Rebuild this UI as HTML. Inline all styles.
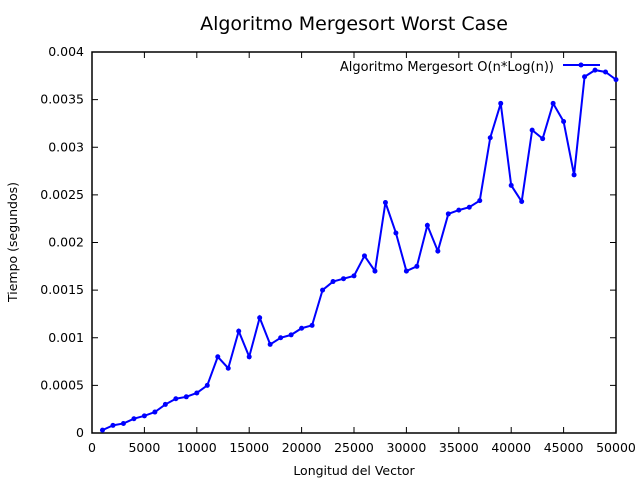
<!DOCTYPE html>
<html><head><meta charset="utf-8"><style>
body{margin:0;background:#fff;}
svg{display:block;font-family:"DejaVu Sans","Liberation Sans",sans-serif;}
</style></head><body>
<svg id="chart" width="640" height="480">
<text x="354" y="30" font-size="19" text-anchor="middle">Algoritmo Mergesort Worst Case</text>
<rect x="92" y="52" width="524" height="381" fill="none" stroke="#000" stroke-width="1.5"/>
<g id="ticks"></g>
<text x="354" y="475" font-size="12.5" text-anchor="middle">Longitud del Vector</text>
<text transform="translate(17,242) rotate(-90)" font-size="12.5" text-anchor="middle">Tiempo (segundos)</text>
<text x="554" y="71" font-size="13" text-anchor="end">Algoritmo Mergesort O(n*Log(n))</text>
<line x1="563" y1="65" x2="600" y2="65" stroke="#0000ff" stroke-width="2"/>
<circle cx="581" cy="65" r="2.5" fill="#0000ff"/>
<g id="series"></g>
</svg>
<script>
const xs=[1000,2000,3000,4000,5000,6000,7000,8000,9000,10000,11000,12000,13000,14000,15000,16000,17000,18000,19000,20000,21000,22000,23000,24000,25000,26000,27000,28000,29000,30000,31000,32000,33000,34000,35000,36000,37000,38000,39000,40000,41000,42000,43000,44000,45000,46000,47000,48000,49000,50000];
const ys=[0.00003,0.00008,0.0001,0.00015,0.00018,0.00022,0.0003,0.00036,0.00038,0.00042,0.0005,0.0008,0.00068,0.00107,0.0008,0.00121,0.00093,0.001,0.00103,0.0011,0.00113,0.0015,0.00159,0.00162,0.00165,0.00186,0.0017,0.00242,0.0021,0.0017,0.00175,0.00218,0.00191,0.0023,0.00234,0.00237,0.00244,0.0031,0.00346,0.0026,0.00243,0.00318,0.00309,0.00346,0.00327,0.00271,0.00374,0.00381,0.00379,0.00371];
const xTicks=[0,5000,10000,15000,20000,25000,30000,35000,40000,45000,50000];
const yTicks=[0,0.0005,0.001,0.0015,0.002,0.0025,0.003,0.0035,0.004];
const yTickLabels=["0","0.0005","0.001","0.0015","0.002","0.0025","0.003","0.0035","0.004"];
const X=v=>92+v/50000*524, Y=v=>433-v/0.004*381;
const NS="http://www.w3.org/2000/svg";
const tg=document.getElementById('ticks');
function mk(tag,attrs,parent){const e=document.createElementNS(NS,tag);for(const k in attrs)e.setAttribute(k,attrs[k]);parent.appendChild(e);return e;}
xTicks.forEach((t,i)=>{
 const x=X(t);
 const a=mk('line',{x1:x,y1:433,x2:x,y2:427,stroke:'#000'},tg);
 
 
 const b=mk('line',{x1:x,y1:52,x2:x,y2:58,stroke:'#000'},tg);
 
 
 const l=mk('text',{x:x,y:452,'font-size':12.5,'text-anchor':'middle'},tg);
 l.textContent=String(t);
 
 
});
yTicks.forEach((t,i)=>{
 const y=Y(t);
 const a=mk('line',{x1:92,y1:y,x2:98,y2:y,stroke:'#000'},tg);
 
 
 const b=mk('line',{x1:616,y1:y,x2:610,y2:y,stroke:'#000'},tg);
 
 
 const l=mk('text',{x:84,y:y+4,'font-size':12.5,'text-anchor':'end'},tg);
 l.textContent=yTickLabels[i];
 
 
});
const sg=document.getElementById('series');
const pl=mk('polyline',{points:xs.map((x,i)=>X(x)+','+Y(ys[i])).join(' '),fill:'none',stroke:'#0000ff','stroke-width':2},sg);


xs.forEach((x,i)=>{
 const c=mk('circle',{cx:X(x),cy:Y(ys[i]),r:2.5,fill:'#0000ff'},sg);
 
 
});
</script>
</body></html>
